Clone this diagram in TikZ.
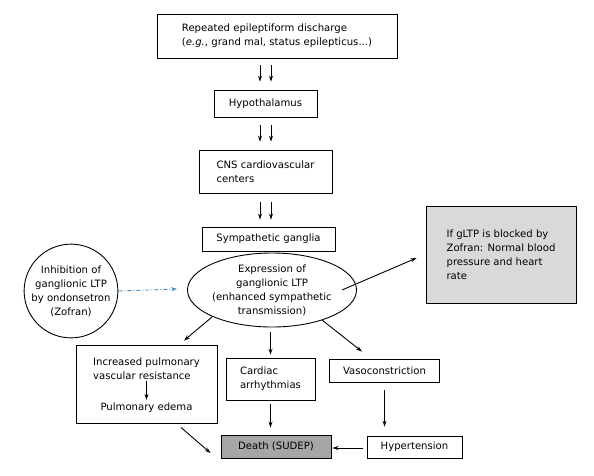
\documentclass[tikz,border=0pt]{standalone}
\usepackage{fontspec}
\setmainfont{DejaVu Sans}
\usetikzlibrary{arrows.meta,calc,shapes.geometric}
\definecolor{lgray}{HTML}{D9D9D9}
\definecolor{dgray}{HTML}{A6A6A6}
\definecolor{dblue}{HTML}{3A8FB7}
\begin{document}
\begin{tikzpicture}[x=1pt,y=-1pt,
  every node/.style={font=\fontsize{10.1}{14}\selectfont, inner sep=0pt},
  boxn/.style={draw, line width=0.9pt, rectangle},
  arr/.style={-{Stealth[length=6pt,width=4pt]}, line width=0.9pt},
  darr/.style={-{Stealth[length=6pt,width=4pt]}, line width=0.9pt, dblue, dash pattern=on 4pt off 2pt on 1pt off 2pt}]
\useasboundingbox[fill=white] (0,0) rectangle (594,475);

\node[boxn, minimum width=240pt, minimum height=44pt, align=left] (b1) at (277,36)
  {Repeated epileptiform discharge\\(\textit{e.g.}, grand mal, status epilepticus...)};
\node[boxn, minimum width=103pt, minimum height=27pt] (hyp) at (265.5,103.5) {Hypothalamus};
\node[boxn, minimum width=133pt, minimum height=43pt, align=left] (cns) at (265.5,171.5)
  {CNS cardiovascular\\centers};
\node[boxn, minimum width=133pt, minimum height=24pt] (gang) at (268.5,239) {Sympathetic ganglia};
\node[draw, line width=0.9pt, ellipse, minimum width=134pt, minimum height=74pt, align=center] (ell) at (272,290)
  {Expression of\\ganglionic LTP\\(enhanced sympathetic\\transmission)};
\node[draw, line width=0.9pt, circle, minimum size=90pt, align=center] (circ) at (71,291)
  {Inhibition of\\ganglionic LTP\\by ondonsetron\\(Zofran)};
\node[boxn, fill=lgray, minimum width=150pt, minimum height=97pt, align=left] (gray) at (501,254.5)
  {If gLTP is blocked by\\Zofran: Normal blood\\pressure and heart\\rate};
\node[boxn, minimum width=141pt, minimum height=78pt] (pulm) at (146.5,384) {};
\node[align=left] (ipvr) at (146.5,368.5) {Increased pulmonary\\vascular resistance};
\node (pe) at (146.5,408) {Pulmonary edema};
\node[boxn, minimum width=89pt, minimum height=42pt, align=left] (card) at (270.5,379)
  {Cardiac\\arrhythmias};
\node[boxn, fill=dgray, minimum width=110pt, minimum height=23pt] (death) at (276,446.5) {Death (SUDEP)};
\node[boxn, minimum width=110pt, minimum height=23pt] (vaso) at (384.5,370.5) {Vasoconstriction};
\node[boxn, minimum width=95pt, minimum height=22pt] (hyper) at (414.5,447) {Hypertension};

% double arrows
\foreach \dx in {-5.5,5.5}{
  \draw[arr] ($(b1.south -| hyp.north)+(\dx,7)$) -- ($(hyp.north)+(\dx,-8)$);
  \draw[arr] ($(hyp.south)+(\dx,8)$) -- ($(cns.north)+(\dx,-8)$);
  \draw[arr] ($(cns.south)+(\dx,9)$) -- ($(gang.north -| cns.north)+(\dx,-7)$);
}
\draw[darr] (circ.east) -- ($(ell.west)+(-10,-1)$);
\draw[arr] ($(ell.center)+(70,0)$) -- ($(gray.west)+(-9,3.5)$);
\draw[arr] ($(ell.center)+(-60,27)$) -- ($(pulm.north)+(37.5,-4)$);
\draw[arr] ($(ell.south -| card.north)+(0,5)$) -- ($(card.north)+(0,-3)$);
\draw[arr] ($(ell.center)+(50,30)$) -- ($(vaso.north)+(-22.5,-7)$);
\draw[arr] ($(ipvr.south)+(0,1)$) -- ($(pe.north)+(0,-3)$);
\draw[arr] ($(card.south)+(0,4)$) -- ($(death.north -| card.north)+(0,-7)$);
\draw[arr] ($(pulm.south)+(34.5,4)$) -- ($(death.west)+(-10,6.5)$);
\draw[arr] ($(vaso.south)+(0,8)$) -- ($(hyper.north -| vaso.south)+(0,-9)$);
\draw[arr] ($(hyper.west)+(-4,1)$) -- ($(death.east)+(1,1.5)$);
\end{tikzpicture}
\end{document}
